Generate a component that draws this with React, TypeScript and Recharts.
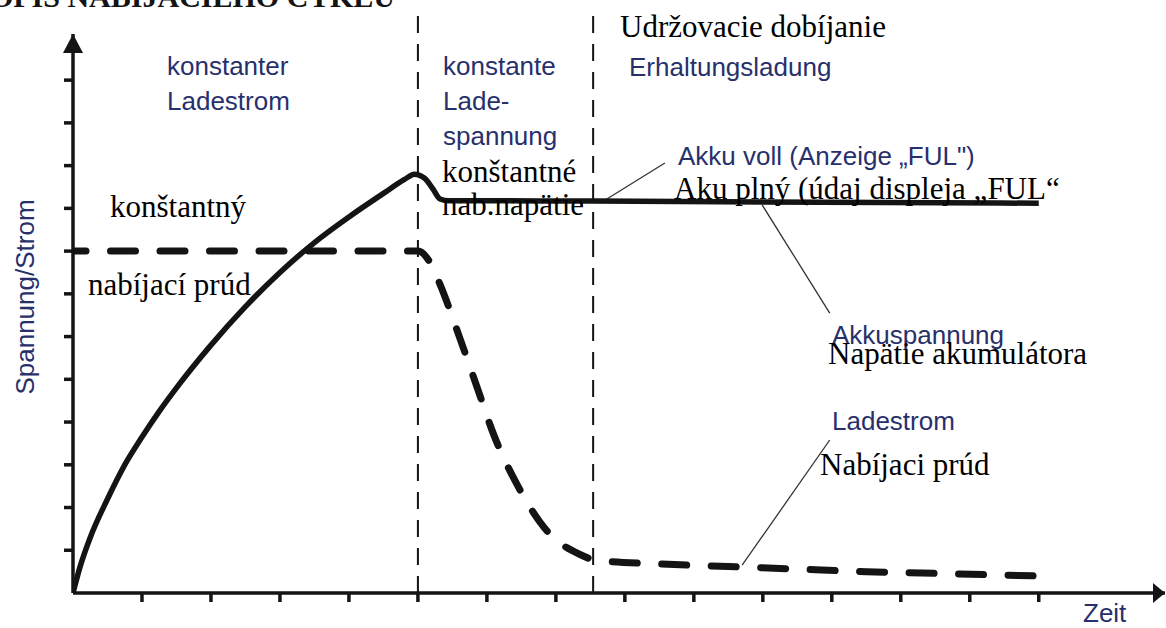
import React from "react";
import { LineChart, Line, XAxis, YAxis, ReferenceLine, ReferenceDot } from "recharts";

// time axis (tick units) and readings for the two curves
const timeVolt = [0, 0.1, 0.25, 0.5, 0.75, 1, 1.25, 1.5, 2, 2.5, 3, 3.5, 4, 4.5, 4.8, 4.95, 5.1, 5.22, 5.32, 5.45, 7.54, 14];
const voltage = [0, 0.6, 1.3, 2.2, 3.0, 3.65, 4.25, 4.8, 5.8, 6.7, 7.5, 8.2, 8.8, 9.35, 9.67, 9.8, 9.7, 9.45, 9.22, 9.18, 9.17, 9.12];

const timeCurr = [0, 5, 5.15, 5.3, 5.6, 5.85, 6.1, 6.45, 6.9, 7.35, 7.6, 8.5, 9.5, 10.5, 11.5, 12.5, 13.95];
const current = [8, 8, 7.8, 7.3, 6.0, 4.85, 3.7, 2.5, 1.4, 0.9, 0.76, 0.68, 0.62, 0.56, 0.5, 0.46, 0.4];

const xTicks = [1, 2, 3, 4, 5, 6, 7, 8, 9, 10, 11, 12, 13, 14];
const yTicks = [1, 2, 3, 4, 5, 6, 7, 8, 9, 10, 11, 12];
const xMax = 15.83;
const yMax = 13.08;

// phase boundaries (dashed verticals)
const phaseBounds = [5, 7.54];
const phaseTop = 13.57;

// pointer lines from labels to curves: [from, to] as [t, value]
const leaders = [
  [[8.58, 10.06], [7.71, 9.19]],
  [[9.99, 9.08], [10.97, 6.55]],
  [[10.97, 3.58], [9.7, 0.65]],
];

const ink = "#141414";
const navy = "#27306b";
const sans = "'Liberation Sans', Arial, sans-serif";
const serif = "'Liberation Serif', 'Times New Roman', serif";
const TICK = 9;

// tick marks drawn by the tick renderer (no labels on this chart)
const xTickMark = (p: any) => (
  <line x1={p.x} x2={p.x} y1={p.y - TICK} y2={p.y} stroke={ink} strokeWidth={3.5} />
);
const yTickMark = (p: any) => (
  <line x1={p.x} x2={p.x + TICK} y1={p.y} y2={p.y} stroke={ink} strokeWidth={3.5} />
);

const UpArrow = (p: any) => (
  <polygon points={`${p.cx},${p.cy} ${p.cx - 10},${p.cy + 19} ${p.cx + 10},${p.cy + 19}`} fill={ink} />
);
const RightArrow = (p: any) => (
  <polygon points={`${p.cx},${p.cy} ${p.cx - 12},${p.cy - 10} ${p.cx - 12},${p.cy + 10}`} fill={ink} />
);

export default function App() {
  const voltData = timeVolt.map((t, i) => ({ t, u: voltage[i] }));
  const currData = timeCurr.map((t, i) => ({ t, i: current[i] }));

  return (
    <div style={{ position: "absolute", left: 0, top: 0, width: 1166, height: 628, background: "#fff", overflow: "hidden" }}>
      <LineChart width={1166} height={628} margin={{ top: 34, right: 1, bottom: 0, left: 0 }}>
        <XAxis
          type="number"
          dataKey="t"
          domain={[0, xMax]}
          ticks={xTicks}
          interval={0}
          tick={xTickMark}
          tickLine={false}
          tickSize={TICK}
          tickMargin={0}
          height={35}
          allowDataOverflow
          axisLine={{ stroke: ink, strokeWidth: 3.5 }}
        />
        <YAxis
          type="number"
          domain={[0, yMax]}
          ticks={yTicks}
          interval={0}
          tick={yTickMark}
          tickLine={false}
          tickSize={TICK}
          tickMargin={0}
          width={73}
          allowDataOverflow
          axisLine={{ stroke: ink, strokeWidth: 3.5 }}
        />
        {phaseBounds.map((x) => (
          <ReferenceLine
            key={x}
            segment={[{ x, y: 0 }, { x, y: phaseTop }]}
            ifOverflow="visible"
            stroke={ink}
            strokeWidth={2}
            strokeDasharray="17 11"
          />
        ))}
        {leaders.map((s, k) => (
          <ReferenceLine
            key={k}
            segment={[{ x: s[0][0], y: s[0][1] }, { x: s[1][0], y: s[1][1] }]}
            ifOverflow="visible"
            stroke="#333"
            strokeWidth={1.3}
          />
        ))}
        <Line
          data={currData}
          dataKey="i"
          type="monotone"
          stroke={ink}
          strokeWidth={7}
          strokeLinecap="round"
          strokeDasharray="25 24.5"
          strokeDashoffset={12}
          dot={false}
          activeDot={false}
          isAnimationActive={false}
        />
        <Line
          data={voltData}
          dataKey="u"
          type="monotone"
          stroke={ink}
          strokeWidth={5.5}
          dot={false}
          activeDot={false}
          isAnimationActive={false}
        />
        <ReferenceDot x={0} y={yMax} ifOverflow="visible" shape={UpArrow} />
        <ReferenceDot x={xMax} y={0} ifOverflow="visible" shape={RightArrow} />
      </LineChart>

      <svg width={1166} height={628} style={{ position: "absolute", left: 0, top: 0, pointerEvents: "none" }}>
        <text x={395} y={7} textAnchor="end" fontFamily={serif} fontWeight="bold" fontSize={30} fill={ink}>
          OPIS NABÍJACIEHO CYKLU
        </text>

        <g fontFamily={sans} fontSize={26} fill={navy}>
          <text x={167} y={75}>konstanter</text>
          <text x={167} y={110}>Ladestrom</text>
          <text x={443} y={75}>konstante</text>
          <text x={443} y={110}>Lade-</text>
          <text x={443} y={145}>spannung</text>
          <text x={629} y={76}>Erhaltungsladung</text>
          <text x={678} y={165}>Akku voll (Anzeige „FUL")</text>
          <text x={832} y={344}>Akkuspannung</text>
          <text x={832} y={430}>Ladestrom</text>
          <text x={1083} y={622}>Zeit</text>
          <text x={25} y={297} transform="rotate(-90 25 297)" textAnchor="middle" dominantBaseline="central">
            Spannung/Strom
          </text>
        </g>

        <g fontFamily={serif} fontSize={31} fill="#000">
          <text x={620} y={37}>Udržovacie dobíjanie</text>
          <text x={442} y={182}>konštantné</text>
          <text x={442} y={215}>nab.napätie</text>
          <text x={110} y={217}>konštantný</text>
          <text x={88} y={295}>nabíjací prúd</text>
          <text x={674} y={199}>Aku plný (údaj displeja „FUL“</text>
          <text x={828} y={364}>Napätie akumulátora</text>
          <text x={820} y={475}>Nabíjaci prúd</text>
        </g>
      </svg>
    </div>
  );
}
